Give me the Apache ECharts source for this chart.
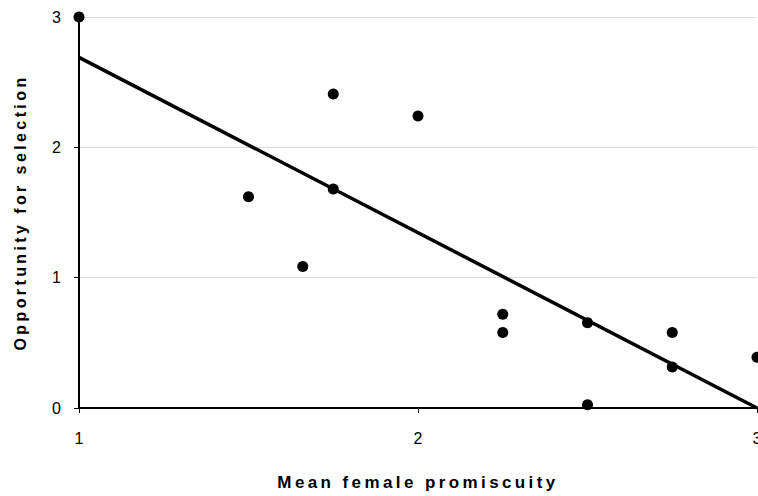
<!DOCTYPE html>
<html>
<head>
<meta charset="utf-8">
<script src="https://cdn.jsdelivr.net/npm/echarts@6/dist/echarts.min.js"></script>
<style>
html,body{margin:0;padding:0;background:#fff}
#c{width:758px;height:496px}
#c text[style*="bold"]{letter-spacing:3.4px}
</style>
</head>
<body>
<div id="c"></div>
<script>
var promiscuity = [1.0, 1.5, 1.66, 1.75, 1.75, 2.0, 2.25, 2.25, 2.5, 2.5, 2.75, 2.75, 3.0];
var opportunity = [3.0, 1.62, 1.085, 2.41, 1.68, 2.24, 0.72, 0.58, 0.655, 0.025, 0.58, 0.315, 0.39];
var trendX = [1, 3];
var trendY = [2.69, 0];
var xTicks = [1, 2, 3];
var yTicks = [0, 1, 2, 3];

var chart = echarts.init(document.getElementById('c'), null, {renderer: 'svg'});
var font = 'Liberation Sans, Arial, sans-serif';
chart.setOption({
  animation: false,
  grid: {left: 79, right: 1, top: 17, bottom: 88, containLabel: false, outerBoundsMode: 'none'},
  xAxis: {
    type: 'value', min: 1, max: 3, interval: 1,
    name: 'Mean female promiscuity', nameLocation: 'middle', nameGap: 66,
    nameTextStyle: {fontFamily: font, fontWeight: 'bold', fontSize: 17, color: '#000'},
    axisLine: {onZero: false, lineStyle: {color: '#000', width: 2}},
    axisTick: {show: true, length: 5, lineStyle: {color: '#000', width: 1}},
    axisLabel: {margin: 22, fontFamily: font, fontSize: 16, color: '#000',
      formatter: function (v) { return xTicks.indexOf(v) >= 0 ? String(v) : ''; }},
    splitLine: {show: false}
  },
  yAxis: {
    type: 'value', min: 0, max: 3, interval: 1,
    name: 'Opportunity for selection', nameLocation: 'middle', nameGap: 51,
    nameTextStyle: {fontFamily: font, fontWeight: 'bold', fontSize: 16, color: '#000'},
    axisLine: {show: true, lineStyle: {color: '#000', width: 2}},
    axisTick: {show: true, length: 5, lineStyle: {color: '#000', width: 1}},
    axisLabel: {margin: 18, fontFamily: font, fontSize: 16, color: '#000',
      formatter: function (v) { return yTicks.indexOf(v) >= 0 ? String(v) : ''; }},
    splitLine: {show: true, lineStyle: {color: '#dcdcdc', width: 1}}
  },
  series: [
    {
      type: 'line',
      data: trendX.map(function (x, i) { return [x, trendY[i]]; }),
      showSymbol: false, symbol: 'none',
      lineStyle: {color: '#000', width: 3.5},
      z: 2
    },
    {
      type: 'scatter',
      data: promiscuity.map(function (x, i) { return [x, opportunity[i]]; }),
      symbol: 'circle', symbolSize: 11,
      itemStyle: {color: '#000', opacity: 1},
      clip: false,
      z: 3
    }
  ]
});
</script>
</body>
</html>
